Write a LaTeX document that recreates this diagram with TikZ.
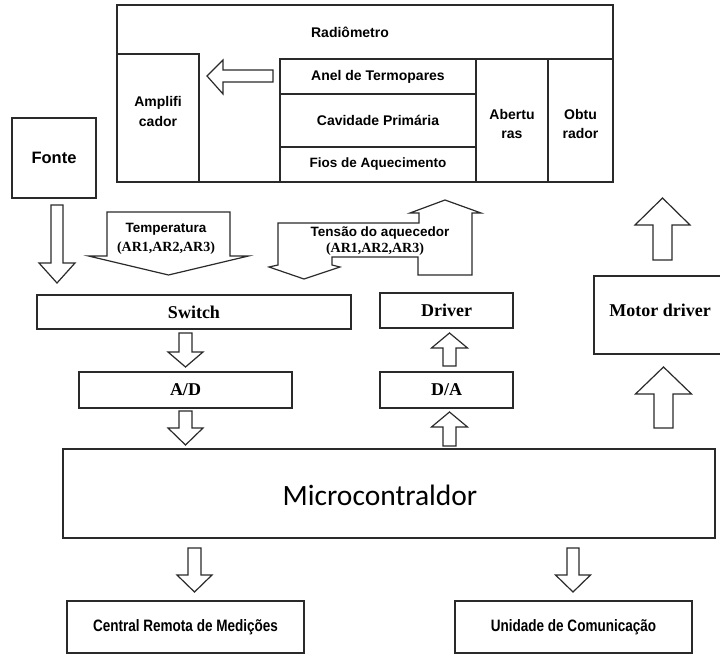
\documentclass[tikz,border=0pt]{standalone}
\usepackage{fontspec}
\setmainfont{Liberation Serif}
\newfontfamily\arialf{Liberation Sans}
\newfontfamily\narrowf[FakeStretch=0.82]{Liberation Sans}
\newfontfamily\calibf{Carlito}
\definecolor{lc}{HTML}{2A2A2A}
\tikzset{
  box/.style={draw=lc, line width=1.2pt, inner sep=0pt, align=center},
  blk/.style={draw=lc, line width=1.2pt, fill=white, line join=miter},
  ar/.style={font=\arialf\bfseries\fontsize{14}{20}\selectfont, align=center, inner sep=0pt},
  tb/.style={font=\bfseries\fontsize{18}{20}\selectfont},
  nar/.style={font=\narrowf\bfseries\fontsize{16.5}{18}\selectfont},
}
\newcommand{\varr}[6]{\draw[blk] ({#1-#5},#2) -- ({#1-#5},#3) -- ({#1-#6},#3) -- (#1,#4) -- ({#1+#6},#3) -- ({#1+#5},#3) -- ({#1+#5},#2) -- cycle;}
\begin{document}
\begin{tikzpicture}[x=1pt,y=-1pt]
\useasboundingbox (0,0) rectangle (720,655);
% Radiometro
\node[box, minimum width=496pt, minimum height=177pt] (radio) at (365,93.5) {};
\node[ar] (radiolbl) at (350,32) {Radiômetro};
\node[box, minimum width=82pt, minimum height=128pt] (amp) at (158,118) {};
\node[ar, yshift=7pt] (amplbl) at (amp.center) {Amplifi\\cador};
\node[box, ar, minimum width=196pt, minimum height=35pt] (anel) at (378,76.5) {Anel de Termopares};
\node[box, ar, minimum width=196pt, minimum height=53pt] (cav) at (378,120.5) {Cavidade Primária};
\node[box, ar, minimum width=196pt, minimum height=35pt, font=\arialf\bfseries\fontsize{13.5}{16}\selectfont] (fios) at (378,164.5) {Fios de Aquecimento};
\node[box, minimum width=72pt, minimum height=123pt] (abert) at (512,120.5) {};
\node[ar, yshift=-3pt, font=\arialf\bfseries\fontsize{14}{19}\selectfont] (abertlbl) at (abert.center) {Abertu\\ras};
\node[box, minimum width=65pt, minimum height=123pt] (obtu) at (580.5,120.5) {};
\node[ar, yshift=-3pt, font=\arialf\bfseries\fontsize{14}{19}\selectfont] (obtulbl) at (obtu.center) {Obtu\\rador};
% arrow inside radiometro
\draw[blk] (273,70) -- (223,70) -- (223,60) -- (207,76) -- (223,94) -- (223,82) -- (273,82) -- cycle;
% Fonte
\node[box, ar, minimum width=84pt, minimum height=80pt, font=\arialf\bfseries\fontsize{16.5}{18}\selectfont] (fonte) at (54,158) {Fonte};
\varr{57}{205}{263}{283}{6}{18}
% Temperatura arrow
\varr{168.5}{212}{256}{275}{61.5}{80}
\node[ar, font=\arialf\bfseries\fontsize{13.5}{16}\selectfont] (templbl) at (166,229) {Temperatura};
\node[tb, font=\bfseries\fontsize{14}{16}\selectfont, inner sep=0pt] (templbl2) at (166,248) {(AR1,AR2,AR3)};
% Tensao arrow
\draw[blk] (278,223) -- (419,223) -- (419,213) -- (410,213) -- (445,200) -- (481,213) -- (472,213) -- (472,275) -- (418,275) -- (418,257) -- (332,257) -- (332,265) -- (340,267) -- (304,279) -- (269,267) -- (278,265) -- cycle;
\node[ar, font=\arialf\bfseries\fontsize{13.5}{16}\selectfont] (tenslbl) at (380,233) {Tensão do aquecedor};
\node[tb, font=\bfseries\fontsize{14}{16}\selectfont, inner sep=0pt] (tenslbl2) at (375,249) {(AR1,AR2,AR3)};
% Obturador arrow
\varr{662.5}{260}{225}{198}{9.5}{27.5}
% middle boxes
\node[box, tb, minimum width=314pt, minimum height=34pt] (switch) at (194,312) {Switch};
\node[box, tb, minimum width=133pt, minimum height=35pt] (driver) at (446.5,310.5) {Driver};
\node[box, minimum width=136pt, minimum height=78pt] (motor) at (662,315) {};
\node[tb, inner sep=0pt] (motorlbl) at (660,310) {Motor driver};
\node[box, tb, minimum width=213pt, minimum height=36pt] (ad) at (185.5,390) {A/D};
\node[box, tb, minimum width=133pt, minimum height=36pt] (da) at (446.5,390) {D/A};
\varr{185.5}{333}{352}{367}{6.5}{17.5}
\varr{185.5}{411}{428}{445}{6.5}{17.5}
\varr{449.5}{366}{348}{333}{6.5}{18}
\varr{449.5}{446}{427}{412}{6.5}{18}
\varr{663.5}{428}{394}{367}{9.5}{28}
% microcontroller
\node[box, minimum width=652pt, minimum height=89pt] (micro) at (389,493.5) {};
\node[font=\calibf\fontsize{29.5}{32}\selectfont, inner sep=0pt] (microlbl) at (380,495) {Microcontraldor};
\varr{194.5}{548}{575}{592}{6.5}{17.5}
\varr{573}{548}{575}{592}{6}{17.5}
% bottom boxes
\node[box, nar, minimum width=237pt, minimum height=52pt] (central) at (185.5,627) {Central Remota de Medições};
\node[box, nar, minimum width=237pt, minimum height=52pt] (unid) at (573.5,627) {Unidade de Comunicação};
\end{tikzpicture}
\end{document}
